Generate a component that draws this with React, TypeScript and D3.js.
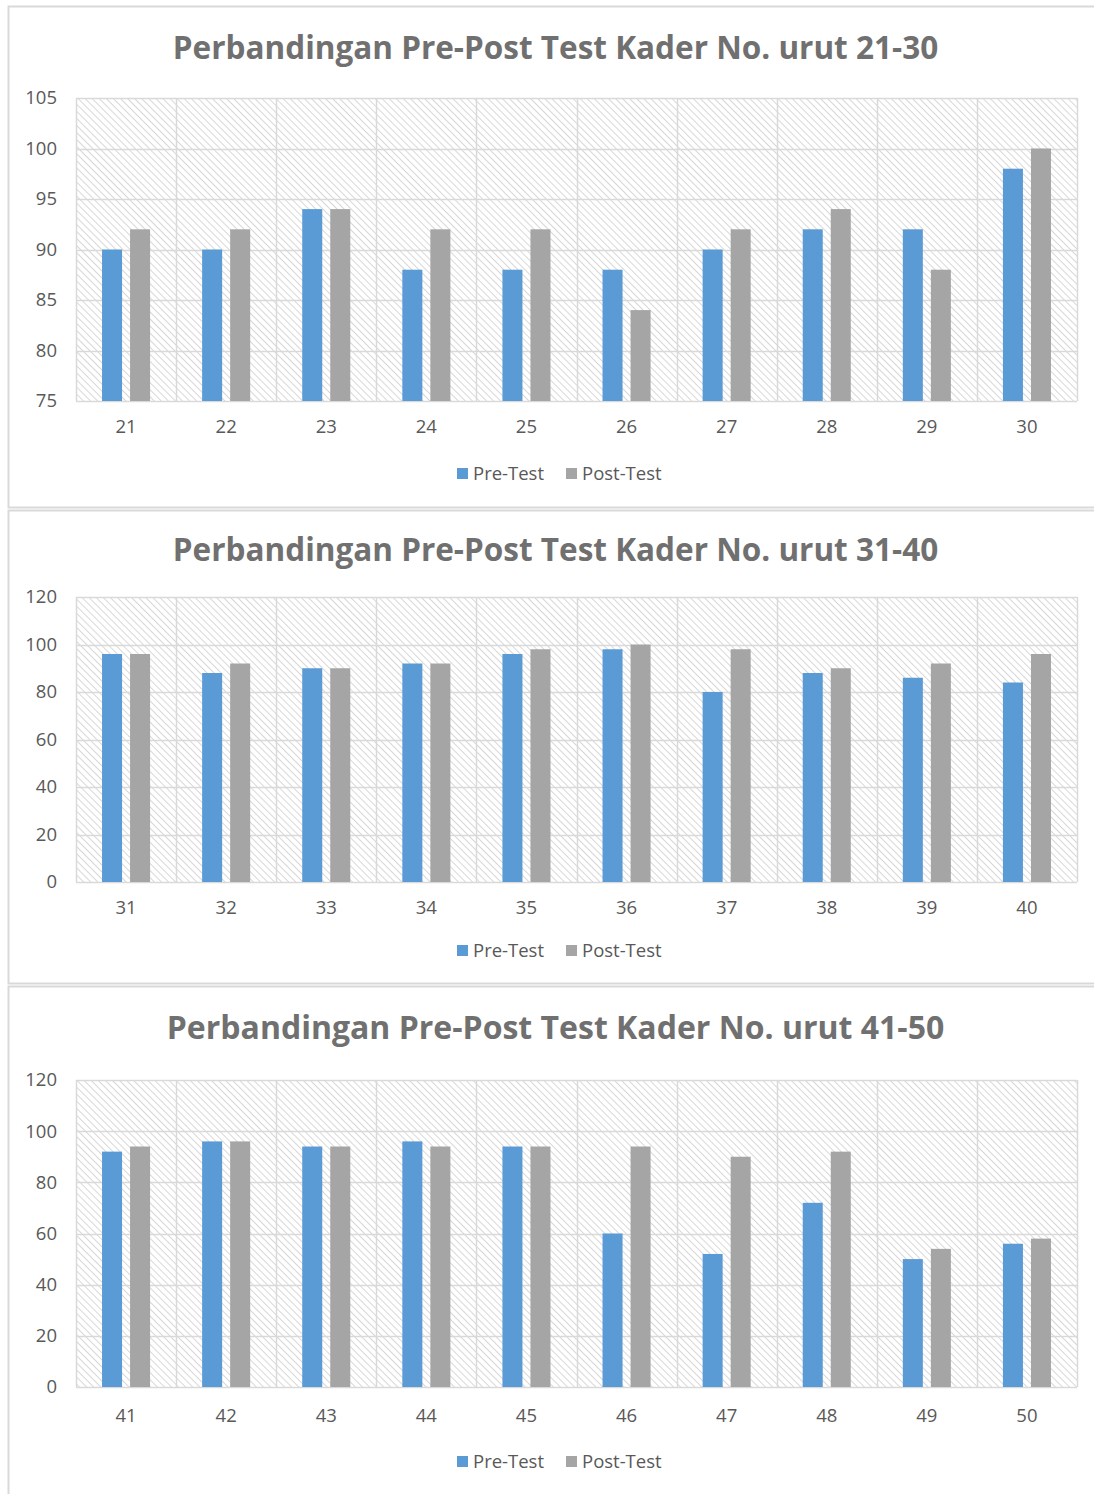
import React, { useEffect, useRef } from "react";
import * as d3 from "d3";

const seriesNames = ["Pre-Test", "Post-Test"];
const seriesColors = ["#5B9BD5", "#A5A5A5"];

const titles = [
  "Perbandingan Pre-Post Test Kader No. urut 21-30",
  "Perbandingan Pre-Post Test Kader No. urut 31-40",
  "Perbandingan Pre-Post Test Kader No. urut 41-50",
];

const categories1 = ["21", "22", "23", "24", "25", "26", "27", "28", "29", "30"];
const pre1 = [90, 90, 94, 88, 88, 88, 90, 92, 92, 98];
const post1 = [92, 92, 94, 92, 92, 84, 92, 94, 88, 100];
const ticks1 = [75, 80, 85, 90, 95, 100, 105];

const categories2 = ["31", "32", "33", "34", "35", "36", "37", "38", "39", "40"];
const pre2 = [96, 88, 90, 92, 96, 98, 80, 88, 86, 84];
const post2 = [96, 92, 90, 92, 98, 100, 98, 90, 92, 96];
const ticks2 = [0, 20, 40, 60, 80, 100, 120];

const categories3 = ["41", "42", "43", "44", "45", "46", "47", "48", "49", "50"];
const pre3 = [92, 96, 94, 96, 94, 60, 52, 72, 50, 56];
const post3 = [94, 96, 94, 94, 94, 94, 90, 92, 54, 58];
const ticks3 = [0, 20, 40, 60, 80, 100, 120];

const W = 1094;
const H = 1494;
const FONT = "'Open Sans', 'Noto Sans', sans-serif";

// layout of each panel (box, title, plot area, labels, legend)
const panels = [
  { top: 6, bottom: 507, titleY: 59, titleSize: 31.5, plotTop: 98, plotBottom: 401, xLabelY: 433, legendY: 474,
    cats: categories1, pre: pre1, post: post1, ticks: ticks1, title: titles[0] },
  { top: 510, bottom: 983, titleY: 561, titleSize: 31.5, plotTop: 597, plotBottom: 882, xLabelY: 914, legendY: 951,
    cats: categories2, pre: pre2, post: post2, ticks: ticks2, title: titles[1] },
  { top: 986, bottom: 1502, titleY: 1039, titleSize: 32, plotTop: 1080, plotBottom: 1387, xLabelY: 1422, legendY: 1462,
    cats: categories3, pre: pre3, post: post3, ticks: ticks3, title: titles[2] },
];

export default function App() {
  const ref = useRef<SVGSVGElement>(null);

  useEffect(() => {
    const svg = d3.select(ref.current);
    svg.selectAll("*").remove();
    svg.attr("width", W).attr("height", H);

    svg.append("rect").attr("width", W).attr("height", H).attr("fill", "#fff");

    // hatched plot background, lines going down to the right
    const defs = svg.append("defs");
    const pat = defs
      .append("pattern")
      .attr("id", "hatch")
      .attr("patternUnits", "userSpaceOnUse")
      .attr("width", 5)
      .attr("height", 5)
      .attr("patternTransform", "rotate(-45)");
    pat.append("rect").attr("width", 5).attr("height", 5).attr("fill", "#fff");
    pat
      .append("line")
      .attr("x1", 0)
      .attr("y1", 0)
      .attr("x2", 0)
      .attr("y2", 5)
      .attr("stroke", "#d3d3d3")
      .attr("stroke-width", 1.8);

    const plotLeft = 76;
    const plotRight = 1077;

    panels.forEach((p) => {
      const g = svg.append("g");

      // chart box
      g.append("rect")
        .attr("x", 8.5)
        .attr("y", p.top + 0.5)
        .attr("width", W + 10)
        .attr("height", p.bottom - p.top)
        .attr("fill", "#fff")
        .attr("stroke", "#d9d9d9")
        .attr("stroke-width", 2);

      g.append("text")
        .attr("x", 555.5)
        .attr("y", p.titleY)
        .attr("text-anchor", "middle")
        .attr("font-family", FONT)
        .attr("font-weight", "bold")
        .attr("font-size", p.titleSize)
        .attr("fill", "#707070")
        .text(p.title);

      const x = d3.scaleBand().domain(p.cats).range([plotLeft, plotRight]);
      const xs = d3
        .scaleBand()
        .domain(seriesNames)
        .range([26, 74].map((v) => (v * x.bandwidth()) / 100))
        .paddingInner(0.2857);
      const y = d3
        .scaleLinear()
        .domain([p.ticks[0], p.ticks[p.ticks.length - 1]])
        .range([p.plotBottom, p.plotTop]);

      g.append("rect")
        .attr("x", plotLeft)
        .attr("y", p.plotTop)
        .attr("width", plotRight - plotLeft)
        .attr("height", p.plotBottom - p.plotTop)
        .attr("fill", "url(#hatch)");

      // gridlines
      g.selectAll(".hgrid")
        .data(p.ticks)
        .enter()
        .append("line")
        .attr("x1", plotLeft)
        .attr("x2", plotRight)
        .attr("y1", (d) => Math.round(y(d)) + 0.5)
        .attr("y2", (d) => Math.round(y(d)) + 0.5)
        .attr("stroke", "#d9d9d9")
        .attr("stroke-width", 1.5);

      const edges = p.cats.map((c) => x(c) as number).concat([plotRight]);
      g.selectAll(".vgrid")
        .data(edges)
        .enter()
        .append("line")
        .attr("x1", (d) => Math.round(d) + 0.5)
        .attr("x2", (d) => Math.round(d) + 0.5)
        .attr("y1", p.plotTop)
        .attr("y2", p.plotBottom)
        .attr("stroke", "#d9d9d9")
        .attr("stroke-width", 1.5);

      // y tick labels
      g.selectAll(".ytick")
        .data(p.ticks)
        .enter()
        .append("text")
        .attr("x", 57)
        .attr("y", (d) => y(d))
        .attr("dy", "0.35em")
        .attr("text-anchor", "end")
        .attr("font-family", FONT)
        .attr("font-size", 18.5)
        .attr("fill", "#595959")
        .text((d) => d);

      // x labels
      g.selectAll(".xtick")
        .data(p.cats)
        .enter()
        .append("text")
        .attr("x", (d) => (x(d) as number) + x.bandwidth() / 2)
        .attr("y", p.xLabelY)
        .attr("text-anchor", "middle")
        .attr("font-family", FONT)
        .attr("font-size", 18.5)
        .attr("fill", "#595959")
        .text((d) => d);

      // bars
      const rows = p.cats.map((c, i) => ({ cat: c, vals: [p.pre[i], p.post[i]] }));
      const grp = g
        .selectAll(".grp")
        .data(rows)
        .enter()
        .append("g")
        .attr("transform", (d) => `translate(${x(d.cat)},0)`);
      grp
        .selectAll("rect")
        .data((d) => d.vals.map((v, i) => ({ v, i })))
        .enter()
        .append("rect")
        .attr("x", (d) => xs(seriesNames[d.i]) as number)
        .attr("y", (d) => y(d.v))
        .attr("width", xs.bandwidth())
        .attr("height", (d) => p.plotBottom - y(d.v))
        .attr("fill", (d) => seriesColors[d.i]);

      // legend
      const legendX = [457, 566];
      seriesNames.forEach((name, i) => {
        g.append("rect")
          .attr("x", legendX[i])
          .attr("y", p.legendY - 6)
          .attr("width", 11)
          .attr("height", 11)
          .attr("fill", seriesColors[i]);
        g.append("text")
          .attr("x", legendX[i] + 16)
          .attr("y", p.legendY)
          .attr("dy", "0.35em")
          .attr("font-family", FONT)
          .attr("font-size", 18.5)
          .attr("fill", "#595959")
          .text(name);
      });
    });
  }, []);

  return (
    <div style={{ position: "absolute", left: 0, top: 0 }}>
      <svg ref={ref} style={{ display: "block" }}></svg>
    </div>
  );
}
